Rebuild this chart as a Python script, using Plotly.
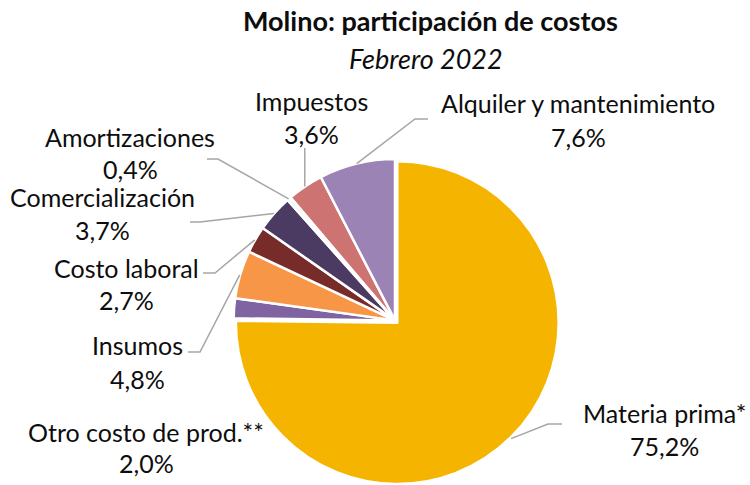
import math
import plotly.graph_objects as go

# ---------------- data ----------------
categories = ["Materia prima*", "Otro costo de prod.**", "Insumos", "Costo laboral",
              "Comercialización", "Amortizaciones", "Impuestos", "Alquiler y mantenimiento"]
values = [75.2, 2.0, 4.8, 2.7, 3.7, 0.4, 3.6, 7.6]
colors = ["#F5B400", "#8064A2", "#F79646", "#772C2A",
          "#4B3A62", "#F4F4F4", "#CD7371", "#9B83B5"]
pulls = [0.02, 0, 0, 0, 0, 0, 0, 0]

title_text = "Molino: participación de costos"
subtitle_text = "Febrero 2022"

# ---------------- layout geometry (pixels) ----------------
W, H = 750, 485
CX, CY, R = 395, 321, 162          # pie centre / radius in pixels
FONT = "Lato"
TXT = "#0D0D0D"
LINE = "#A6A6A6"
LBL_SIZE = 25

maxpull = max(pulls)
half_h = R * (1 + maxpull)
dom_y = [max(0.0, 1 - (CY + half_h) / H), min(1.0, 1 - (CY - half_h) / H)]
dom_x = [CX / W - 0.33, CX / W + 0.33]

def px(x):
    return x / W

def py(y):
    return 1 - y / H

fig = go.Figure(go.Pie(
    labels=categories,
    values=values,
    sort=False,
    direction="clockwise",
    rotation=0,
    pull=pulls,
    marker=dict(colors=colors, line=dict(color="white", width=2.5)),
    textinfo="none",
    hoverinfo="label+percent",
    showlegend=False,
    domain=dict(x=dom_x, y=dom_y),
))

# label placements: (centre x, name y, pct y, leader-line elbow points or None)
label_pos = {
    "Materia prima*": (664, 413, 446, [(562, 424), (548, 424)]),
    "Otro costo de prod.**": (146, 432, 463, None),
    "Insumos": (137, 345, 379, [(188, 352), (200, 352)]),
    "Costo laboral": (126, 268, 300, [(203, 273), (215, 273)]),
    "Comercialización": (102, 197, 230, [(190, 222), (200, 222)]),
    "Amortizaciones": (130, 137, 169, [(207, 159), (218, 159)]),
    "Impuestos": (311, 101, 134, "vertical"),
    "Alquiler y mantenimiento": (578, 103, 137, [(428, 119), (415, 119)]),
}

total = sum(values)
cum = 0.0
annotations = []
shapes = []
for cat, val, pull in zip(categories, values, pulls):
    mid = (cum + val / 2) / total * 2 * math.pi   # clockwise from 12 o'clock
    cum += val
    off = pull * R
    ex = CX + (R + off) * math.sin(mid)
    ey = CY - (R + off) * math.cos(mid)
    lx, ny, pyy, pts = label_pos[cat]
    pct = f"{val:.1f}%".replace(".", ",")
    annotations.append(dict(x=px(lx), y=py(ny), xref="paper", yref="paper", text=cat,
                            showarrow=False, xanchor="center", yanchor="middle",
                            font=dict(family=FONT, size=LBL_SIZE, color=TXT)))
    annotations.append(dict(x=px(lx), y=py(pyy), xref="paper", yref="paper", text=pct,
                            showarrow=False, xanchor="center", yanchor="middle",
                            font=dict(family=FONT, size=LBL_SIZE, color=TXT)))
    if pts is None:
        continue
    if pts == "vertical":
        pts = [(ex, 148)]
    poly = pts + [(ex, ey)]
    path = "M " + " L ".join(f"{px(x):.5f},{py(y):.5f}" for x, y in poly)
    shapes.append(dict(type="path", path=path, xref="paper", yref="paper",
                       line=dict(color=LINE, width=1.5)))

annotations.append(dict(x=px(430), y=py(21), xref="paper", yref="paper",
                        text=f"<b>{title_text}</b>", showarrow=False,
                        xanchor="center", yanchor="middle",
                        font=dict(family=FONT, size=27, color=TXT)))
annotations.append(dict(x=px(426), y=py(58), xref="paper", yref="paper",
                        text=f"<i>{subtitle_text}</i>", showarrow=False,
                        xanchor="center", yanchor="middle",
                        font=dict(family=FONT, size=27, color=TXT)))

fig.update_layout(
    width=W, height=H,
    margin=dict(l=0, r=0, t=0, b=0),
    paper_bgcolor="white",
    plot_bgcolor="white",
    annotations=annotations,
    shapes=shapes,
)

fig.write_html("out.html",
               config={"displayModeBar": False},
               post_script="document.body.style.margin='0';document.body.style.overflow='hidden';")
